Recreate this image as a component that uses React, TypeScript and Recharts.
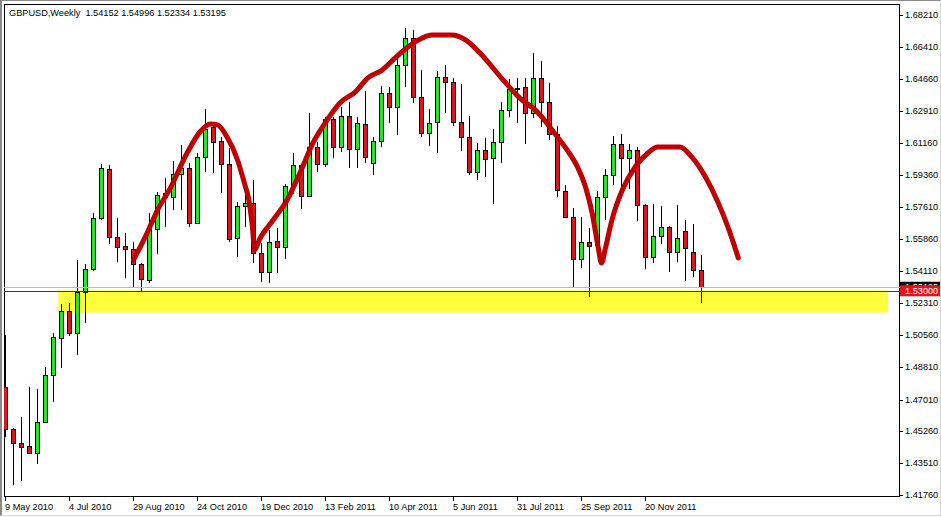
import React from 'react';
import { ComposedChart, Bar, Line, XAxis, YAxis, ReferenceArea, ReferenceLine } from 'recharts';

const FONT = '"Liberation Sans", Arial, sans-serif';
const FS = 9.2;
const GREEN = '#30e030';
const RED = '#d01c1c';

// GBPUSD weekly bars, first bar = week of 9 May 2010
const OPEN = [
  1.4770, 1.4539, 1.4461, 1.4445, 1.4406, 1.4577, 1.4836, 1.5040, 1.5189, 1.5068,
  1.5293, 1.5420, 1.5701, 1.5971, 1.5596, 1.5547, 1.5530, 1.5448, 1.5360, 1.5641,
  1.5817, 1.5817, 1.5944, 1.5977, 1.5674, 1.6037, 1.6203, 1.6125, 1.5999, 1.5591,
  1.5767, 1.5784, 1.5508, 1.5404, 1.5574, 1.5541, 1.5877, 1.5993, 1.5822, 1.6092,
  1.5999, 1.6247, 1.6092, 1.6263, 1.6081, 1.6219, 1.6004, 1.6125, 1.6390, 1.6313,
  1.6544, 1.6693, 1.6368, 1.6170, 1.6230, 1.6478, 1.6450, 1.6230, 1.6147, 1.5955,
  1.6076, 1.6032, 1.6120, 1.6296, 1.6412, 1.6423, 1.6280, 1.6473, 1.6340, 1.6164,
  1.5850, 1.5707, 1.5475, 1.5569, 1.5552, 1.5817, 1.5938, 1.6109, 1.6032, 1.6076,
  1.5773, 1.5486, 1.5602, 1.5652, 1.5514, 1.5630, 1.5514, 1.54152,
];
const HIGH = [
  1.5056, 1.4544, 1.4605, 1.4770, 1.4759, 1.4880, 1.5068, 1.5227, 1.5233, 1.5470,
  1.5448, 1.5729, 1.5999, 1.5993, 1.5701, 1.5618, 1.5569, 1.5453, 1.5729, 1.5844,
  1.5922, 1.6015, 1.6103, 1.6004, 1.6059, 1.6302, 1.6208, 1.6147, 1.6087, 1.5789,
  1.5894, 1.5911, 1.5563, 1.5635, 1.5646, 1.5888, 1.6059, 1.5999, 1.6280, 1.6120,
  1.6258, 1.6258, 1.6313, 1.6340, 1.6258, 1.6401, 1.6147, 1.6428, 1.6423, 1.6577,
  1.6748, 1.6737, 1.6517, 1.6302, 1.6511, 1.6544, 1.6473, 1.6439, 1.6263, 1.6114,
  1.6142, 1.6192, 1.6340, 1.6467, 1.6473, 1.6473, 1.6610, 1.6566, 1.6445, 1.6208,
  1.5883, 1.5756, 1.5707, 1.5646, 1.5850, 1.5971, 1.6153, 1.6164, 1.6109, 1.6092,
  1.5778, 1.5778, 1.5767, 1.5657, 1.5773, 1.5690, 1.5668, 1.54996,
];
const LOW = [
  1.4494, 1.4230, 1.4252, 1.4401, 1.4346, 1.4572, 1.4687, 1.4875, 1.5051, 1.4946,
  1.5123, 1.5409, 1.5690, 1.5558, 1.5459, 1.5371, 1.5321, 1.5299, 1.5343, 1.5503,
  1.5652, 1.5745, 1.5745, 1.5652, 1.5668, 1.5955, 1.5949, 1.5839, 1.5569, 1.5486,
  1.5652, 1.5453, 1.5348, 1.5343, 1.5398, 1.5475, 1.5833, 1.5751, 1.5817, 1.5955,
  1.5982, 1.6032, 1.6065, 1.5977, 1.5977, 1.6004, 1.5938, 1.6092, 1.6225, 1.6159,
  1.6423, 1.6335, 1.6147, 1.6098, 1.6059, 1.6280, 1.6208, 1.6070, 1.5938, 1.5911,
  1.5927, 1.5778, 1.6004, 1.6258, 1.6225, 1.6109, 1.6252, 1.6203, 1.6131, 1.5817,
  1.5704, 1.5321, 1.5426, 1.5266, 1.5547, 1.5690, 1.5883, 1.5872, 1.5861, 1.5685,
  1.5420, 1.5453, 1.5558, 1.5404, 1.5459, 1.5354, 1.5376, 1.52334,
];
const CLOSE = [
  1.4539, 1.4461, 1.4439, 1.4406, 1.4577, 1.4836, 1.5045, 1.5189, 1.5068, 1.5293,
  1.5420, 1.5701, 1.5977, 1.5596, 1.5541, 1.5530, 1.5448, 1.5365, 1.5641, 1.5828,
  1.5839, 1.5944, 1.5977, 1.5674, 1.6037, 1.6192, 1.6120, 1.5999, 1.5585, 1.5767,
  1.5784, 1.5508, 1.5404, 1.5569, 1.5541, 1.5877, 1.5993, 1.5822, 1.6092, 1.5999,
  1.6247, 1.6092, 1.6263, 1.6081, 1.6225, 1.6037, 1.6125, 1.6390, 1.6313, 1.6544,
  1.6693, 1.6368, 1.6170, 1.6225, 1.6478, 1.6450, 1.6230, 1.6147, 1.5955, 1.6076,
  1.6026, 1.6120, 1.6296, 1.6412, 1.6417, 1.6280, 1.6473, 1.6340, 1.6164, 1.5855,
  1.5707, 1.5475, 1.5569, 1.5547, 1.5817, 1.5938, 1.6109, 1.6032, 1.6076, 1.5773,
  1.5486, 1.5602, 1.5652, 1.5514, 1.5591, 1.5536, 1.5414, 1.53195,
];

// one label every 8 bars
const DATE_LABELS = [
  '9 May 2010', '4 Jul 2010', '29 Aug 2010', '24 Oct 2010', '19 Dec 2010', '13 Feb 2011',
  '10 Apr 2011', '5 Jun 2011', '31 Jul 2011', '25 Sep 2011', '20 Nov 2011',
];
const PRICE_TICKS = [
  1.6821, 1.6641, 1.6466, 1.6291, 1.6116, 1.5936, 1.5761, 1.5586, 1.5411, 1.5231,
  1.5056, 1.4881, 1.4701, 1.4526, 1.4351, 1.4176,
];

// hand drawn red swing line: bar position / price
const CURVE_X = [
  16.0, 17.7, 19.0, 20.6, 22.7, 24.3, 25.6, 26.5, 27.7, 29.0, 30.0, 30.34, 30.84, 31.15, 31.71,
  33.46, 35.2, 36.8, 38.5, 40.2, 41.8, 43.7, 45.3, 47.1, 48.7, 50.3, 52.1, 53.3, 55.8, 57.5,
  59.3, 62.2, 64.3, 66.5, 68.5, 70.2, 71.5, 72.5, 73.3, 74.1, 74.5, 75.0, 75.8, 77.1, 78.7,
  80.3, 81.5, 84.3, 85.8, 87.5, 89.1, 90.3, 91.6,
];
const CURVE_P = [
  1.5470, 1.5618, 1.5745, 1.5866, 1.6059, 1.6175, 1.6219, 1.6214, 1.6147, 1.6021, 1.5872, 1.5817, 1.5663, 1.5525, 1.5580,
  1.5690, 1.5800, 1.5949, 1.6120, 1.6241, 1.6335, 1.6395, 1.6473, 1.6517, 1.6583, 1.6643, 1.6693, 1.6709, 1.6709, 1.6682,
  1.6610, 1.6462, 1.6362, 1.6285, 1.6175, 1.6076, 1.5982, 1.5872, 1.5734, 1.5536, 1.5453, 1.5536, 1.5690, 1.5855, 1.5982,
  1.6059, 1.6092, 1.6092, 1.6037, 1.5927, 1.5784, 1.5652, 1.5481,
];

const ZONE_X = [6.6, 110.3];
const ZONE_P = [1.518, 1.5302];
const LEVEL = 1.53;
const LAST = CLOSE[CLOSE.length - 1];

const X_DOMAIN = [-0.1875, 111.8125];
const Y_DOMAIN = [1.41638, 1.68803];

const candles = OPEN.map((o, i) => ({
  i,
  open: o,
  high: HIGH[i],
  low: LOW[i],
  close: CLOSE[i],
  range: [LOW[i], HIGH[i]],
}));
const curve = CURVE_X.map((i, k) => ({ i, p: CURVE_P[k] }));

const Candle = (props: any) => {
  const { x, y, width, height, payload } = props;
  if (x == null || !payload) return null;
  const { open, close, high, low } = payload;
  const top = Math.min(y, y + height);
  const h = Math.abs(height);
  const cx = Math.floor(x + width / 2) + 0.5;
  const py = (v: number) => top + ((high - v) / (high - low || 1)) * h;
  const b1 = Math.round(py(Math.max(open, close))) + 0.5;
  let b2 = Math.round(py(Math.min(open, close))) + 0.5;
  if (b2 - b1 < 1) b2 = b1 + 1;
  return (
    <g>
      <line x1={cx} x2={cx} y1={Math.round(top)} y2={Math.round(top + h)} stroke="#000" />
      <rect x={cx - 2} y={b1} width={4} height={b2 - b1} fill={close >= open ? GREEN : RED} stroke="#000" />
    </g>
  );
};

const DateTick = (props: any) => {
  const { x, y, payload } = props;
  const label = DATE_LABELS[Math.round(payload.value / 8)];
  const tx = Math.floor(x) + 0.5;
  return (
    <g>
      <line x1={tx} x2={tx} y1={y} y2={y + 4} stroke="#000" />
      <text x={x - 0.5} y={y + 12.5} fontSize={FS} fontFamily={FONT} fill="#000" textAnchor="start">
        {label}
      </text>
    </g>
  );
};

const PriceTick = (props: any) => {
  const { x, y, payload } = props;
  const ty = Math.round(y) + 0.5;
  return (
    <g>
      <line x1={x} x2={x + 3} y1={ty} y2={ty} stroke="#000" />
      <text x={x + 5} y={y} dominantBaseline="central" fontSize={FS} fontFamily={FONT} fill="#000">
        {payload.value.toFixed(5)}
      </text>
    </g>
  );
};

const PriceTag = (props: any) => {
  const { viewBox, bg, value } = props;
  if (!viewBox) return null;
  const right = viewBox.x + viewBox.width;
  return (
    <g>
      <rect x={right} y={viewBox.y - 5.5} width={41} height={11} fill={bg} />
      <text x={right + 5} y={viewBox.y} dominantBaseline="central" fontSize={FS} fontFamily={FONT} fill="#fff">
        {value.toFixed(5)}
      </text>
    </g>
  );
};

// crisp 1px horizontal level line
const LevelLine = (props: any) => {
  const { x1, x2, y1, stroke } = props;
  if (x1 == null) return null;
  const y = Math.round(y1) + 0.5;
  return <line x1={x1} x2={x2} y1={y} y2={y} stroke={stroke} strokeWidth={1} />;
};

const Frame = (props: any) => {
  const { x, y, width, height } = props;
  return <rect x={x + 0.5} y={y + 0.5} width={width - 1} height={height - 1} fill="none" stroke="#000" />;
};

export default function App() {
  return (
    <div style={{ position: 'absolute', left: 0, top: 0, width: 941, height: 517, background: '#fff' }}>
      <ComposedChart width={941} height={517} data={candles} margin={{ top: 4, right: 0, bottom: 0, left: 4 }}>
        <XAxis
          dataKey="i"
          type="number"
          domain={X_DOMAIN}
          allowDataOverflow
          ticks={DATE_LABELS.map((_, k) => k * 8)}
          interval={0}
          tick={<DateTick />}
          tickLine={false}
          axisLine={false}
          tickSize={0}
          tickMargin={0}
          height={20}
        />
        <YAxis
          orientation="right"
          type="number"
          domain={Y_DOMAIN}
          allowDataOverflow
          ticks={PRICE_TICKS}
          interval={0}
          tick={<PriceTick />}
          tickLine={false}
          axisLine={false}
          tickSize={0}
          tickMargin={0}
          width={41}
        />
        <ReferenceArea
          x1={ZONE_X[0]}
          x2={ZONE_X[1]}
          y1={ZONE_P[0]}
          y2={ZONE_P[1]}
          fill="#ffff3c"
          fillOpacity={1}
          stroke="none"
        />
        <ReferenceLine
          y={LAST}
          stroke="#bdbdbd"
          shape={(p: any) => <LevelLine {...p} stroke="#bdbdbd" />}
          label={(p: any) => <PriceTag {...p} bg="#000" value={LAST} />}
        />
        <ReferenceLine
          y={LEVEL}
          stroke="#c80000"
          shape={(p: any) => <LevelLine {...p} stroke="#c80000" />}
          label={(p: any) => <PriceTag {...p} bg="#e41414" value={LEVEL} />}
        />
        <Bar dataKey="range" barSize={8} shape={<Candle />} isAnimationActive={false} />
        <Line
          data={curve}
          dataKey="p"
          type="monotone"
          stroke="#c00000"
          strokeWidth={5}
          strokeLinecap="round"
          strokeLinejoin="round"
          dot={false}
          activeDot={false}
          isAnimationActive={false}
        />
        <ReferenceArea
          x1={X_DOMAIN[0]}
          x2={X_DOMAIN[1]}
          y1={Y_DOMAIN[0]}
          y2={Y_DOMAIN[1]}
          shape={<Frame />}
        />
      </ComposedChart>
      <div
        style={{
          position: 'absolute',
          left: 9,
          top: 7,
          fontFamily: FONT,
          fontSize: FS,
          lineHeight: '12px',
          whiteSpace: 'pre',
          color: '#000',
        }}
      >
        {'GBPUSD,Weekly  1.54152 1.54996 1.52334 1.53195'}
      </div>
      <div
        style={{
          position: 'absolute',
          left: 0,
          top: 0,
          width: 941,
          height: 516,
          boxSizing: 'border-box',
          borderLeft: '2px solid #8a8a8a',
          borderTop: '1px solid #8a8a8a',
          borderRight: '1px solid #d6d6d6',
          borderBottom: '1px solid #d6d6d6',
          pointerEvents: 'none',
        }}
      />
    </div>
  );
}
